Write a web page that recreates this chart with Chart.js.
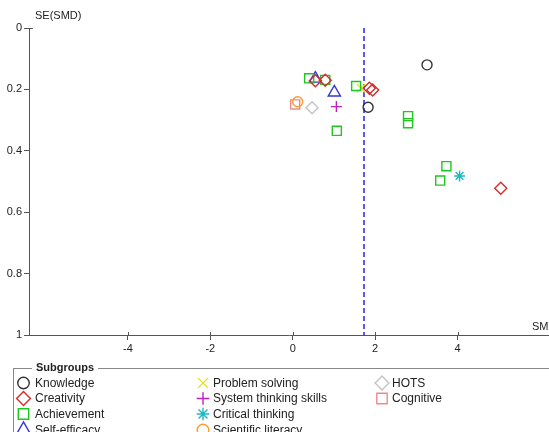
<!DOCTYPE html>
<html>
<head>
<meta charset="utf-8">
<script src="https://cdn.jsdelivr.net/npm/chart.js@4.4.1/dist/chart.umd.min.js"></script>
<style>
  html, body { margin: 0; padding: 0; background: #fff; }
  canvas { display: block; }
</style>
</head>
<body>
<canvas id="funnelChart" width="549" height="432"></canvas>
<script>
// subgroup names (legend order: column by column)
const subgroups = ['Knowledge', 'Creativity', 'Achievement', 'Self-efficacy',
  'Problem solving', 'System thinking skills', 'Critical thinking', 'Scientific literacy',
  'HOTS', 'Cognitive'];

// SMD (x) and SE(SMD) (y) per subgroup
const knowledgeSMD = [1.83, 3.26];
const knowledgeSE = [0.258, 0.12];
const creativitySMD = [0.55, 0.79, 1.86, 1.94, 5.05];
const creativitySE = [0.172, 0.17, 0.196, 0.202, 0.522];
const achievementSMD = [0.40, 0.79, 1.54, 1.07, 2.80, 2.80, 3.73, 3.58];
const achievementSE = [0.164, 0.169, 0.189, 0.335, 0.287, 0.31, 0.45, 0.497];
const selfEfficacySMD = [0.55, 1.01];
const selfEfficacySE = [0.165, 0.21];
const problemSolvingSMD = [1.66];
const problemSolvingSE = [0.196];
const systemThinkingSMD = [1.06];
const systemThinkingSE = [0.256];
const criticalThinkingSMD = [4.05];
const criticalThinkingSE = [0.482];
const sciLiteracySMD = [0.12];
const sciLiteracySE = [0.24];
const hotsSMD = [0.47];
const hotsSE = [0.26];
const cognitiveSMD = [0.06];
const cognitiveSE = [0.249];

const pooledSMD = 1.73;

const xTicks = [-4, -2, 0, 2, 4];
const yTicks = [0, 0.2, 0.4, 0.6, 0.8, 1];
const yTickLabels = ['0', '0.2', '0.4', '0.6', '0.8', '1'];

const FONT = '"Liberation Sans", Arial, sans-serif';

function pts(xs, ys) {
  return xs.map((x, i) => ({ x: x, y: ys[i] }));
}

// marker look per subgroup
const markers = [
  { color: '#333333', style: 'circle', r: 5 },
  { color: '#d62c2c', style: 'rectRot', r: 6 },
  { color: '#1ec81e', style: 'rect', r: 6.4 },
  { color: '#3535d8', style: 'triangle', r: 7 },
  { color: '#e0e020', style: 'crossRot', r: 6 },
  { color: '#c020c0', style: 'cross', r: 5.5 },
  { color: '#20b8c0', style: 'star', r: 5.5 },
  { color: '#ff9a30', style: 'circle', r: 5 },
  { color: '#c4c4c4', style: 'rectRot', r: 6 },
  { color: '#f08a8a', style: 'rect', r: 6.4 }
];

const seriesX = [knowledgeSMD, creativitySMD, achievementSMD, selfEfficacySMD,
  problemSolvingSMD, systemThinkingSMD, criticalThinkingSMD, sciLiteracySMD, hotsSMD, cognitiveSMD];
const seriesY = [knowledgeSE, creativitySE, achievementSE, selfEfficacySE,
  problemSolvingSE, systemThinkingSE, criticalThinkingSE, sciLiteracySE, hotsSE, cognitiveSE];

const datasets = subgroups.map((name, i) => ({
  label: name,
  data: pts(seriesX[i], seriesY[i]),
  pointStyle: markers[i].style,
  pointRadius: markers[i].r,
  pointHoverRadius: markers[i].r,
  borderColor: markers[i].color,
  backgroundColor: 'rgba(0,0,0,0)',
  pointBorderWidth: 1.4,
  showLine: false
}));

// pooled estimate line
datasets.push({
  type: 'line',
  label: 'pooled',
  data: [{ x: pooledSMD, y: 0 }, { x: pooledSMD, y: 1 }],
  borderColor: '#0000ee',
  borderWidth: 1.3,
  borderDash: [5, 3],
  pointRadius: 0,
  fill: false
});

// axis titles, crossing ticks + boxed legend
const extras = {
  id: 'extras',
  afterDraw(chart) {
    const c = chart.ctx;
    const xs = chart.scales.x, ys = chart.scales.y;
    c.save();
    // small tick parts inside the plot
    c.strokeStyle = '#555';
    c.lineWidth = 1;
    c.beginPath();
    xTicks.forEach(v => {
      const px = Math.round(xs.getPixelForValue(v)) + 0.5;
      c.moveTo(px, ys.bottom - 3);
      c.lineTo(px, ys.bottom);
    });
    const y0 = Math.round(ys.getPixelForValue(0)) + 0.5;
    c.moveTo(xs.left, y0);
    c.lineTo(xs.left + 4, y0);
    c.stroke();

    c.fillStyle = '#222';
    c.font = '11px ' + FONT;
    c.textBaseline = 'middle';
    c.textAlign = 'left';
    c.fillText('SE(SMD)', 35, 16);
    c.fillText('SMD', 532, 327);

    // legend frame
    c.strokeStyle = '#888';
    c.strokeRect(13.5, 368.5, 560, 80);
    c.font = 'bold 11px ' + FONT;
    const tw = c.measureText('Subgroups').width;
    c.fillStyle = '#fff';
    c.fillRect(32, 362, tw + 8, 12);
    c.fillStyle = '#222';
    c.fillText('Subgroups', 36, 368);

    const colSym = [23.5, 203, 382];
    const colText = [35, 213, 392];
    const rows = [383, 398.5, 414, 430];
    c.font = '12px ' + FONT;
    subgroups.forEach((name, i) => {
      const col = Math.floor(i / 4);
      const row = i % 4;
      const m = markers[i];
      c.strokeStyle = m.color;
      c.fillStyle = 'rgba(0,0,0,0)';
      c.lineWidth = 1.4;
      Chart.helpers.drawPoint(c, { pointStyle: m.style, radius: m.r * 1.15, rotation: 0, borderWidth: 1.4 }, colSym[col], rows[row]);
      c.fillStyle = '#222';
      c.fillText(name, colText[col], rows[row] + 0.5);
    });
    c.restore();
  }
};

new Chart(document.getElementById('funnelChart').getContext('2d'), {
  type: 'scatter',
  data: { datasets: datasets },
  options: {
    responsive: false,
    animation: false,
    layout: { autoPadding: false, padding: { top: 28, left: 0, right: 0, bottom: 0 } },
    plugins: {
      legend: { display: false },
      tooltip: { enabled: false }
    },
    scales: {
      x: {
        type: 'linear',
        min: -6.4,
        max: 6.22,
        afterFit(scale) {
          scale.height = 97;
          scale.paddingLeft = 0;
          scale.paddingRight = 0;
        },
        afterBuildTicks(scale) { scale.ticks = xTicks.map(v => ({ value: v })); },
        border: { color: '#555', width: 1 },
        grid: { drawOnChartArea: false, drawTicks: true, tickLength: 5, color: '#555' },
        ticks: {
          color: '#222',
          padding: 2,
          maxRotation: 0,
          font: { family: FONT, size: 11 },
          callback: v => String(v)
        }
      },
      y: {
        type: 'linear',
        reverse: true,
        min: 0,
        max: 1,
        afterFit(scale) { scale.width = 29; },
        afterBuildTicks(scale) { scale.ticks = yTicks.map(v => ({ value: v })); },
        border: { color: '#555', width: 1 },
        grid: { drawOnChartArea: false, drawTicks: true, tickLength: 5, color: '#555' },
        ticks: {
          color: '#222',
          padding: 2,
          font: { family: FONT, size: 11 },
          callback: (v, i) => yTickLabels[yTicks.indexOf(v)] ?? String(v)
        }
      }
    }
  },
  plugins: [extras]
});
</script>
</body>
</html>
